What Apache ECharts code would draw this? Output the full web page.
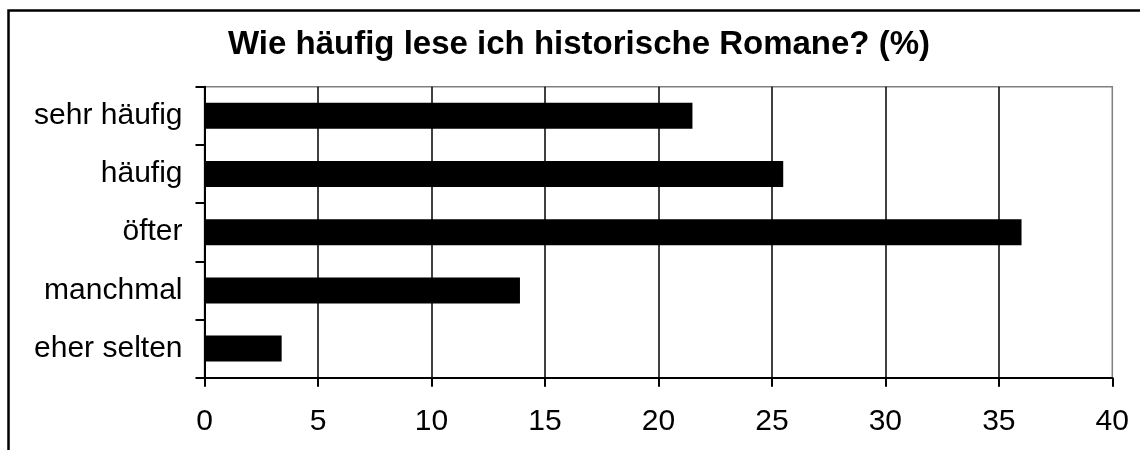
<!DOCTYPE html>
<html>
<head>
<meta charset="utf-8">
<script src="https://cdn.jsdelivr.net/npm/echarts@6/dist/echarts.min.js"></script>
<style>
html,body{margin:0;padding:0;background:#fff;}
#chart{width:1140px;height:450px;}
</style>
</head>
<body>
<div id="chart"></div>
<script>
const titleText = 'Wie häufig lese ich historische Romane? (%)';
const categories = ['sehr häufig', 'häufig', 'öfter', 'manchmal', 'eher selten'];
const values = [21.5, 25.5, 36.0, 13.9, 3.4];
const xTicks = [0, 5, 10, 15, 20, 25, 30, 35, 40];

const chart = echarts.init(document.getElementById('chart'), null, {renderer: 'canvas'});
const font = 'Liberation Sans, Arial, sans-serif';
chart.setOption({
  animation: false,
  backgroundColor: '#ffffff',
  grid: {
    left: 204.5, right: 27.7, top: 86.7, bottom: 72.3,
    show: true, borderColor: '#808080', borderWidth: 1.5, backgroundColor: 'transparent'
  },
  graphic: [
    {
      type: 'rect', z: 100, silent: true,
      shape: {x: 8.5, y: 10.5, width: 1400, height: 800},
      style: {fill: 'none', stroke: '#000', lineWidth: 2.5}
    },
    {
      type: 'text', z: 100,
      style: {
        x: 579, y: 45, text: titleText, textAlign: 'center', textVerticalAlign: 'middle',
        font: 'bold 33px ' + font, fill: '#000'
      }
    }
  ],
  xAxis: {
    type: 'value', min: xTicks[0], max: xTicks[xTicks.length - 1], interval: 5,
    axisLine: {show: true, lineStyle: {color: '#000', width: 2}},
    axisTick: {show: true, length: 9, lineStyle: {color: '#000', width: 2}},
    axisLabel: {color: '#000', fontSize: 30, fontFamily: font, margin: 29},
    splitLine: {show: true, showMinLine: false, showMaxLine: false, lineStyle: {color: '#000', width: 1.5}}
  },
  yAxis: {
    type: 'category', data: categories, inverse: true,
    axisLine: {show: true, lineStyle: {color: '#000', width: 2}},
    axisTick: {show: true, length: 9, lineStyle: {color: '#000', width: 2}},
    axisLabel: {color: '#000', fontSize: 30, fontFamily: font, margin: 22},
    splitLine: {show: false}
  },
  series: [{
    type: 'bar', data: values, barWidth: 26,
    itemStyle: {color: '#000'}
  }]
});
</script>
</body>
</html>
